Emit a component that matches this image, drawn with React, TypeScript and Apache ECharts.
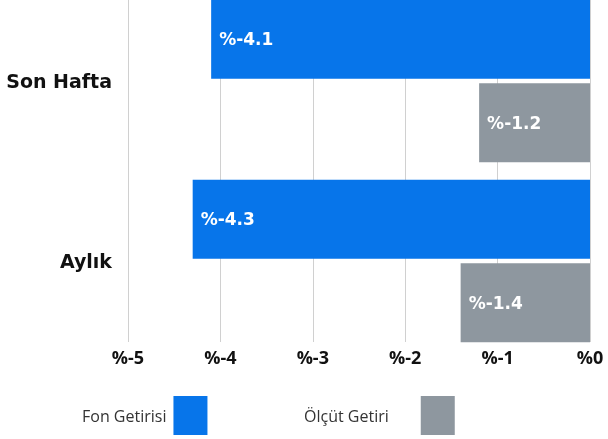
import React, { useEffect, useRef } from "react";
import * as echarts from "echarts";

const categories = ["Son Hafta", "Aylık"];
const fonGetirisi = [-4.1, -4.3];
const olcutGetiri = [-1.2, -1.4];
const seriesNames = ["Fon Getirisi", "Ölçüt Getiri"];
const colors = ["#0775EA", "#8E979F"];

const FONT = "'Open Sans', 'Noto Sans', sans-serif";
const WIDE = "'DejaVu Sans', sans-serif";
const SHIFT = 9; // chart div is lifted by this many px so the first band can start above the page

export default function App() {
  const ref = useRef<HTMLDivElement>(null);
  useEffect(() => {
    if (!ref.current) return;
    const chart = echarts.init(ref.current, null, { renderer: "svg" });
    const label = {
      show: true,
      position: "insideLeft",
      distance: 8,
      color: "#fff",
      fontFamily: WIDE,
      fontWeight: "bold",
      fontSize: 17,
      formatter: (p: any) => "%" + p.value,
    };
    const legendBase = {
      top: 391 + SHIFT,
      align: "right",
      itemWidth: 34,
      itemHeight: 39,
      icon: "rect",
      padding: 5,
    };
    const legendText = (padRight: number) => ({
      fontFamily: FONT,
      fontSize: 16,
      color: "#333",
      padding: [0, padRight, 0, 0],
    });
    chart.setOption({
      animation: false,
      textStyle: { fontFamily: FONT },
      legend: [
        { ...legendBase, data: [seriesNames[0]], left: 77, textStyle: legendText(2) },
        { ...legendBase, data: [seriesNames[1]], left: 299, textStyle: legendText(27) },
      ],
      grid: [
        { left: 128, right: 18, top: 0, height: 360 },
        { left: 128, right: 18, top: SHIFT, height: 342 },
      ],
      xAxis: [
        {
          gridIndex: 0,
          type: "value",
          min: -5,
          max: 0,
          interval: 1,
          axisLabel: { show: false },
          axisLine: { show: false },
          axisTick: { show: false },
          splitLine: { show: false },
        },
        {
          gridIndex: 1,
          type: "value",
          min: -5,
          max: 0,
          interval: 1,
          axisLine: { show: false },
          axisTick: { show: false },
          splitLine: { show: true, lineStyle: { color: "#d0d0d0", width: 1 } },
          axisLabel: {
            margin: 6,
            color: "#111",
            fontFamily: FONT,
            fontWeight: "bold",
            fontSize: 18,
            formatter: (v: number) => "%" + v,
          },
        },
      ],
      yAxis: [
        {
          gridIndex: 0,
          type: "category",
          data: categories,
          inverse: true,
          axisLine: { show: false },
          axisTick: { show: false },
          axisLabel: {
            margin: 16,
            color: "#111",
            fontFamily: WIDE,
            fontWeight: "bold",
            fontSize: 19,
          },
        },
        {
          gridIndex: 1,
          type: "category",
          data: categories,
          inverse: true,
          show: false,
        },
      ],
      series: [
        {
          name: seriesNames[0],
          type: "bar",
          xAxisIndex: 0,
          yAxisIndex: 0,
          data: fonGetirisi,
          barWidth: 79,
          barGap: "6%",
          itemStyle: { color: colors[0] },
          label,
          z: 3,
        },
        {
          name: seriesNames[1],
          type: "bar",
          xAxisIndex: 0,
          yAxisIndex: 0,
          data: olcutGetiri,
          barWidth: 79,
          barGap: "6%",
          itemStyle: { color: colors[1] },
          label,
          z: 3,
        },
      ],
    });
    return () => chart.dispose();
  }, []);
  return (
    <div
      ref={ref}
      style={{ position: "fixed", left: 0, top: -SHIFT, width: 608, height: 439 + SHIFT }}
    />
  );
}
